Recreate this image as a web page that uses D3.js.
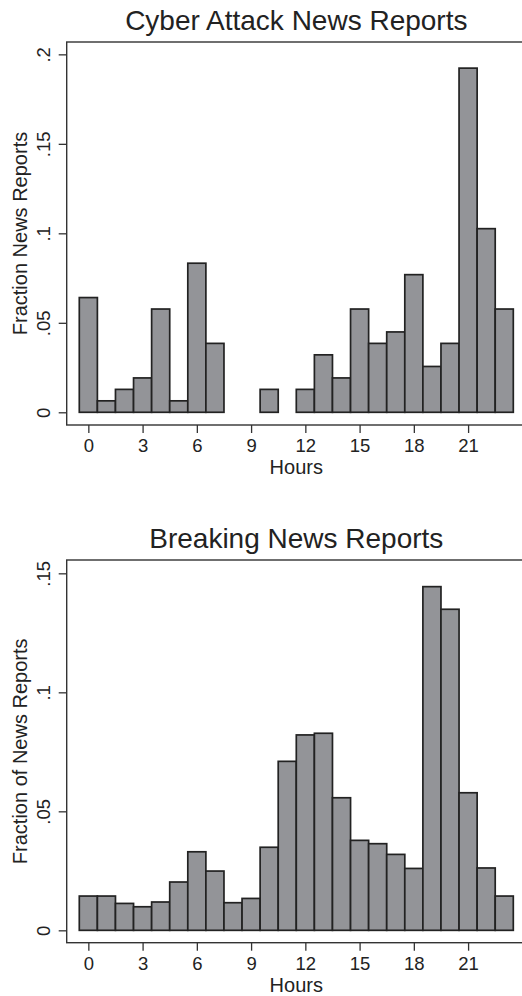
<!DOCTYPE html>
<html>
<head>
<meta charset="utf-8">
<script src="https://cdn.jsdelivr.net/npm/d3@7"></script>
<style>
  body { margin: 0; background: #fff; }
  svg { display: block; font-family: "Liberation Sans", Arial, Helvetica, sans-serif; }
</style>
</head>
<body>
<svg id="chart" width="522" height="996"></svg>
<script>
// hour of day (bin centres)
const hours = [0, 1, 2, 3, 4, 5, 6, 7, 8, 9, 10, 11, 12, 13, 14, 15, 16, 17, 18, 19, 20, 21, 22, 23];
const hourTicks = [0, 3, 6, 9, 12, 15, 18, 21];

// fraction of reports per hour
const cyberFrac = [0.0641, 0.0064, 0.0128, 0.0192, 0.0577, 0.0064, 0.0833, 0.0385, 0, 0, 0.0128, 0,
                   0.0128, 0.0321, 0.0192, 0.0577, 0.0385, 0.0449, 0.0769, 0.0256, 0.0385, 0.1923, 0.1026, 0.0577];
const breakingFrac = [0.0144, 0.0144, 0.0113, 0.0099, 0.0119, 0.0203, 0.0330, 0.0249, 0.0116, 0.0134, 0.0349, 0.0710,
                      0.0821, 0.0828, 0.0557, 0.0378, 0.0364, 0.0319, 0.0260, 0.1444, 0.1349, 0.0578, 0.0262, 0.0144];

const cyberYTicks = [0, 0.05, 0.1, 0.15, 0.2];
const cyberYLabels = ["0", ".05", ".1", ".15", ".2"];
const breakingYTicks = [0, 0.05, 0.1, 0.15];
const breakingYLabels = ["0", ".05", ".1", ".15"];

const svg = d3.select("#chart");
const left = 66.7;

const x = d3.scaleLinear().domain([-0.5, 23.5]).range([79.3, 513.3]);

function panel(opts) {
  const g = svg.append("g");
  const y = d3.scaleLinear().domain(opts.yDomain).range([opts.bottom, opts.top]);

  // bars
  const data = hours.map((h, i) => ({ h: h, v: opts.values[i] })).filter(d => d.v > 0);
  g.selectAll("rect.bar")
    .data(data)
    .enter()
    .append("rect")
    .attr("class", "bar")
    .attr("x", d => x(d.h - 0.5))
    .attr("width", d => x(d.h + 0.5) - x(d.h - 0.5))
    .attr("y", d => y(d.v))
    .attr("height", d => y(0) - y(d.v))
    .style("fill", "#939498")
    .style("stroke", "#222")
    .style("stroke-width", 1.7);

  // plot frame (right side runs past the picture)
  g.append("rect")
    .attr("x", left)
    .attr("y", opts.top)
    .attr("width", 540 - left)
    .attr("height", opts.bottom - opts.top)
    .style("fill", "none")
    .style("stroke", "#333")
    .style("stroke-width", 1.4);

  // y axis
  const yAxis = g.append("g")
    .attr("transform", `translate(${left},0)`)
    .call(d3.axisLeft(y).tickValues(opts.yTicks).tickSize(8).tickSizeOuter(0)
      .tickFormat((d, i) => opts.yLabels[i]));
  yAxis.select(".domain").remove();
  yAxis.selectAll(".tick line").attr("stroke", "#333").attr("stroke-width", 1.3);
  yAxis.selectAll(".tick text")
    .attr("transform", "rotate(-90)")
    .attr("x", 0)
    .attr("y", -16.7)
    .attr("dy", 0)
    .attr("text-anchor", "middle")
    .attr("font-size", "18.5px")
    .attr("font-family", null)
    .attr("fill", "#222");

  // x axis
  const xAxis = g.append("g")
    .attr("transform", `translate(0,${opts.bottom})`)
    .call(d3.axisBottom(x).tickValues(hourTicks).tickSize(8).tickSizeOuter(0));
  xAxis.select(".domain").remove();
  xAxis.selectAll(".tick line").attr("stroke", "#333").attr("stroke-width", 1.3);
  xAxis.selectAll(".tick text")
    .attr("y", 27)
    .attr("dy", 0)
    .attr("font-size", "18.5px")
    .attr("font-family", null)
    .attr("fill", "#222");

  // titles
  g.append("text")
    .attr("x", x(11.5))
    .attr("y", opts.top - 12)
    .attr("text-anchor", "middle")
    .attr("font-size", "28px")
    .attr("fill", "#222")
    .text(opts.title);

  g.append("text")
    .attr("x", x(11.5))
    .attr("y", opts.bottom + 49)
    .attr("text-anchor", "middle")
    .attr("font-size", "20px")
    .attr("fill", "#222")
    .text("Hours");

  g.append("text")
    .attr("transform", `translate(27,${(opts.top + opts.bottom) / 2}) rotate(-90)`)
    .attr("text-anchor", "middle")
    .attr("font-size", "20px")
    .attr("fill", "#222")
    .text(opts.yTitle);
}

panel({
  title: "Cyber Attack News Reports",
  yTitle: "Fraction News Reports",
  values: cyberFrac,
  yTicks: cyberYTicks,
  yLabels: cyberYLabels,
  yDomain: [-0.0071, 0.2069],
  top: 42,
  bottom: 425
});

panel({
  title: "Breaking News Reports",
  yTitle: "Fraction of News Reports",
  values: breakingFrac,
  yTicks: breakingYTicks,
  yLabels: breakingYLabels,
  yDomain: [-0.0052, 0.1556],
  top: 560,
  bottom: 942.7
});
</script>
</body>
</html>
